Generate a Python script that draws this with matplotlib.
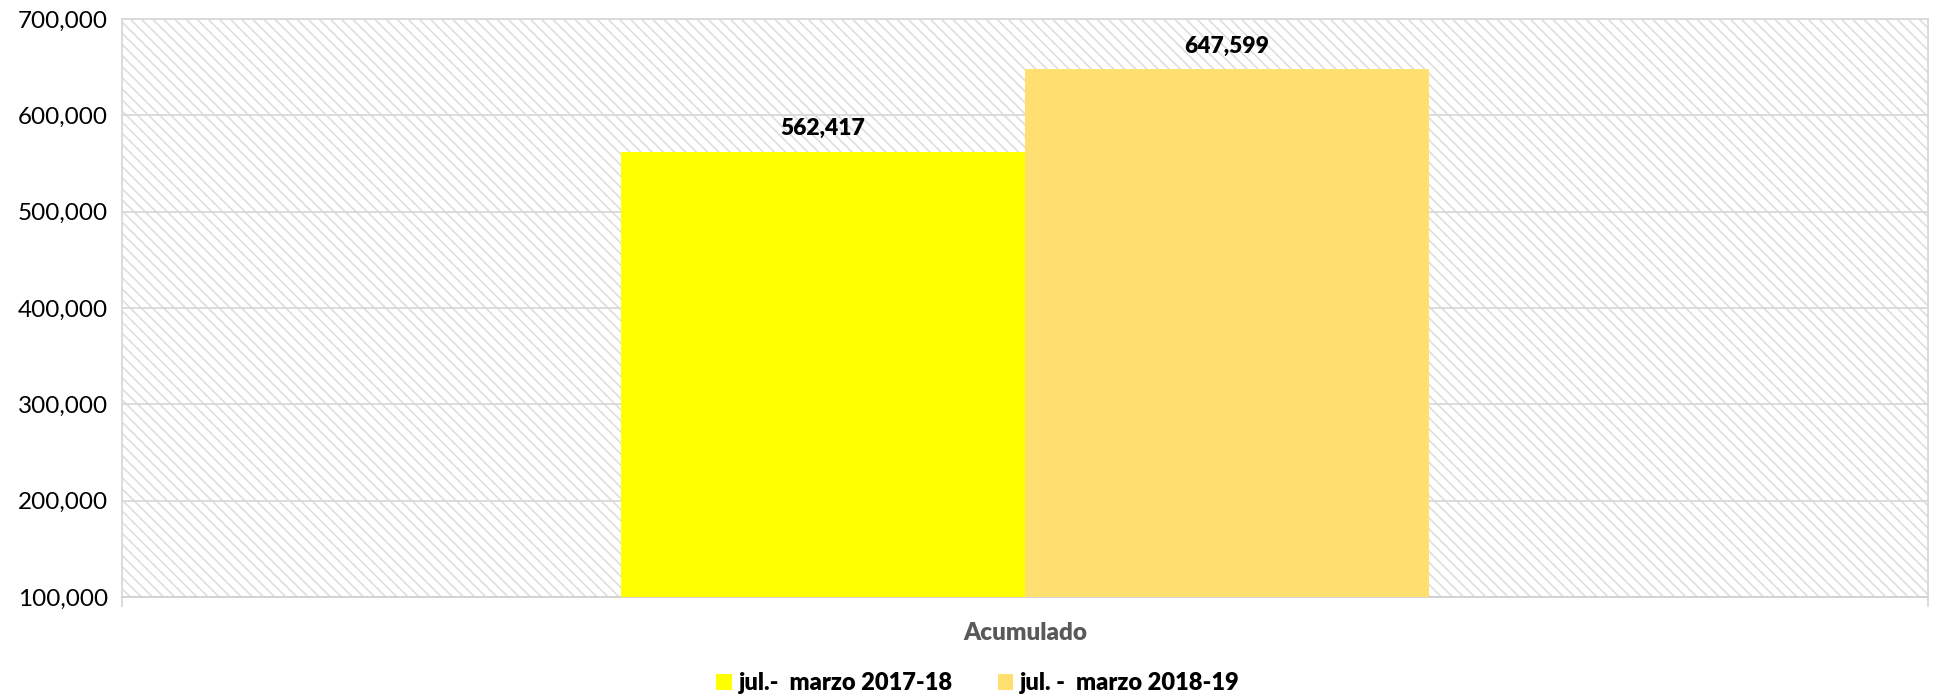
import matplotlib
matplotlib.use("Agg")
import matplotlib.pyplot as plt
from matplotlib.patches import Rectangle
from matplotlib.ticker import FuncFormatter

categories = ["Acumulado"]
series_names = ["jul.-  marzo 2017-18", "jul. -  marzo 2018-19"]
series_values = [[562417], [647599]]
colors = ["#FFFF00", "#FFDF6F"]
yticks = [100000, 200000, 300000, 400000, 500000, 600000, 700000]

plt.rcParams['font.family'] = ['Lato', 'DejaVu Sans']
plt.rcParams['hatch.linewidth'] = 1.2
plt.rcParams['hatch.color'] = '#dedede'

fig = plt.figure(figsize=(19.46, 6.97), dpi=100)
ax = fig.add_axes([122/1946, 1 - 597/697, (1928-122)/1946, (597-19)/697])

bg = Rectangle((0, 0), 1, 1, transform=ax.transAxes, facecolor='white',
               edgecolor='#dedede', hatch='\\\\\\', lw=0, zorder=0)
ax.add_patch(bg)

width = 0.2237
n = len(series_names)
for i, (name, vals) in enumerate(zip(series_names, series_values)):
    xs = [k + (i - (n - 1) / 2) * width for k in range(len(categories))]
    bars = ax.bar(xs, vals, width=width, color=colors[i], label=name, zorder=3)
    for b, v in zip(bars, vals):
        ax.annotate(f"{v:,}", (b.get_x() + b.get_width() / 2, v),
                    xytext=(0, 23), textcoords='offset pixels',
                    ha='center', va='center', fontsize=16.5, fontweight='heavy',
                    color='black', zorder=5)

ax.set_xlim(-0.5, len(categories) - 0.5)
ax.set_ylim(100000, 700000)
ax.set_yticks(yticks)
ax.yaxis.set_major_formatter(FuncFormatter(lambda v, p: f"{int(v):,}"))
ax.tick_params(axis='y', length=0, pad=10, labelsize=17.5, labelcolor='black')
ax.grid(axis='y', color='#d9d9d9', lw=1.3, zorder=1)
ax.set_axisbelow(True)

ax.set_xticks([k - 0.5 for k in range(len(categories) + 1)])
ax.set_xticklabels([])
ax.tick_params(axis='x', which='major', length=7, width=1.3, color='#d9d9d9', direction='out')
ax.set_xticks(range(len(categories)), minor=True)
ax.set_xticklabels(categories, minor=True)
ax.tick_params(axis='x', which='minor', length=0, pad=18, labelsize=17.5, labelcolor='#595959')
for lab in ax.get_xticklabels(minor=True):
    lab.set_fontweight('heavy')

for s in ax.spines.values():
    s.set_color('#d9d9d9')
    s.set_linewidth(1.3)
ax.spines['bottom'].set_color('#d0d0d0')

leg = fig.legend(loc='center', bbox_to_anchor=(978/1946, 1 - 683/697), ncol=2,
                 frameon=False, fontsize=17, handlelength=0.65, handleheight=0.65,
                 handletextpad=0.3, columnspacing=1.9)
for t in leg.get_texts():
    t.set_fontweight('heavy')

fig.savefig("out.png", dpi=100, facecolor='white')
